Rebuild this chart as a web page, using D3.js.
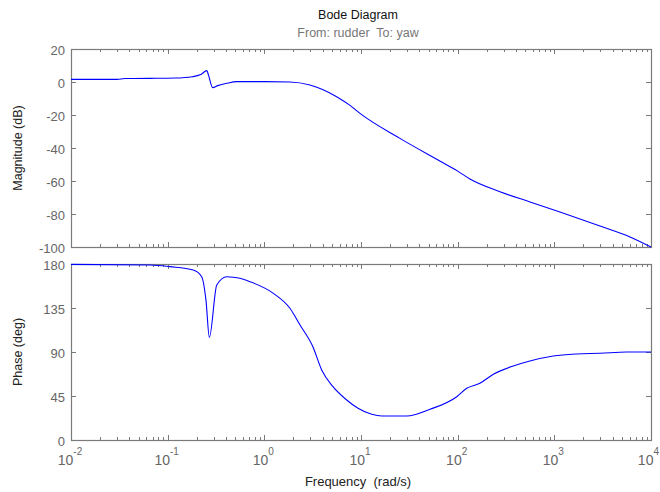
<!DOCTYPE html>
<html>
<head>
<meta charset="utf-8">
<script src="https://d3js.org/d3.v7.min.js"></script>
<style>
  body { margin: 0; background: #fff; }
  text { font-family: "Liberation Sans", Arial, sans-serif; white-space: pre; }
</style>
</head>
<body>
<svg id="chart" width="660" height="492"></svg>
<script>
// Magnitude response (rad/s, dB)
const magFreq = [0.01, 0.03, 0.036, 0.066, 0.12, 0.18, 0.22, 0.254, 0.265, 0.292, 0.33, 0.408, 0.52, 1.0, 1.84, 2.96, 4.0, 5.6, 7.7, 10, 25, 66, 100, 134, 274, 560, 1143, 2965, 6070, 10000];
const magDb   = [1.6, 1.6, 2.1, 2.2, 2.4, 3.2, 4.5, 6.9, 4.0, -3.4, -2.2, -0.8, 0.2, 0.2, 0.0, -1.8, -4.5, -8.9, -14.2, -19.5, -34, -48, -54, -58.8, -66.5, -72.7, -78.8, -87.3, -93.9, -100];

// Phase response (rad/s, deg)
const phaseFreq = [0.01, 0.0656, 0.106, 0.184, 0.225, 0.249, 0.270, 0.322, 0.408, 0.56, 0.711, 1.24, 1.84, 2.34, 3.18, 3.92, 5.13, 7.11, 9.31, 12.9, 16.4, 29.7, 51.8, 97.8, 124, 170, 234, 376, 559, 975, 1702, 2966, 5600, 10000];
const phaseDeg  = [179.6, 179, 177.3, 173.9, 167, 143, 105, 158.5, 167, 165.4, 161.9, 150, 134.7, 117.6, 95.4, 71.6, 54.5, 40.9, 32.4, 26.3, 24.5, 24.5, 31.4, 44.3, 52.9, 58, 67.2, 75.7, 80.8, 85.9, 88, 88.7, 90, 90];

const magTicks = [20, 0, -20, -40, -60, -80, -100];
const phaseTicks = [180, 135, 90, 45, 0];
const decadeExps = [-2, -1, 0, 1, 2, 3, 4];

const titleText = "Bode Diagram";
const subtitleText = "From: rudder  To: yaw";

const svg = d3.select("#chart");
const left = 71, right = 651;
const magTop = 49, magBottom = 247;
const phTop = 264, phBottom = 440;
const frameColor = "#7a7a7a";
const tickText = "#666";

const x = d3.scaleLog().domain([1e-2, 1e4]).range([left, right]);
const yMag = d3.scaleLinear().domain([-100, 20]).range([magBottom, magTop]);
const yPh = d3.scaleLinear().domain([0, 180]).range([phBottom, phTop]);

const xTickVals = x.ticks();
const isDecade = v => Math.abs(Math.log10(v) - Math.round(Math.log10(v))) < 1e-9;

function drawPanel(y, top, bottom, yTicks) {
  const g = svg.append("g");
  // inward x ticks on top and bottom edges
  xTickVals.forEach(v => {
    const len = isDecade(v) ? 5 : 3;
    const px = Math.round(x(v)) + 0.5;
    g.append("line").attr("x1", px).attr("x2", px).attr("y1", top).attr("y2", top + len)
      .attr("stroke", frameColor).attr("stroke-width", 1);
    g.append("line").attr("x1", px).attr("x2", px).attr("y1", bottom).attr("y2", bottom - len)
      .attr("stroke", frameColor).attr("stroke-width", 1);
  });
  // inward y ticks on left and right edges + labels
  yTicks.forEach(v => {
    const py = Math.round(y(v)) + 0.5;
    g.append("line").attr("x1", left).attr("x2", left + 5).attr("y1", py).attr("y2", py)
      .attr("stroke", frameColor);
    g.append("line").attr("x1", right).attr("x2", right - 5).attr("y1", py).attr("y2", py)
      .attr("stroke", frameColor);
    g.append("text").attr("x", 65).attr("y", py + 5).attr("text-anchor", "end")
      .attr("font-size", 13).attr("fill", tickText).text(v);
  });
  g.append("rect").attr("x", left + 0.5).attr("y", top + 0.5)
    .attr("width", right - left).attr("height", bottom - top)
    .attr("fill", "none").attr("stroke", frameColor).attr("stroke-width", 1.2);
}

drawPanel(yMag, magTop, magBottom, magTicks);
drawPanel(yPh, phTop, phBottom, phaseTicks);

// response curves
const magLine = d3.line().x(d => x(d[0])).y(d => yMag(d[1])).curve(d3.curveMonotoneX);
svg.append("path").datum(d3.zip(magFreq, magDb)).attr("d", magLine)
  .attr("fill", "none").attr("stroke", "#0000ff").attr("stroke-width", 1.1);

const phLine = d3.line().x(d => x(d[0])).y(d => yPh(d[1])).curve(d3.curveMonotoneX);
svg.append("path").datum(d3.zip(phaseFreq, phaseDeg)).attr("d", phLine)
  .attr("fill", "none").attr("stroke", "#0000ff").attr("stroke-width", 1.1);

// decade labels on the bottom axis
decadeExps.forEach((e, i) => {
  const last = i === decadeExps.length - 1;
  const t = svg.append("text")
    .attr("x", last ? 659 : x(Math.pow(10, e)) - 1).attr("y", 465)
    .attr("text-anchor", last ? "end" : "middle").attr("font-size", 14).attr("fill", tickText);
  t.append("tspan").text("10");
  t.append("tspan").attr("dy", -10).attr("font-size", 10).text(String(e));
});

// titles
svg.append("text").attr("x", 358).attr("y", 19).attr("text-anchor", "middle")
  .attr("font-size", 12.5).attr("fill", "#111").text(titleText);
svg.append("text").attr("x", 358).attr("y", 37).attr("text-anchor", "middle")
  .attr("font-size", 12.5).attr("fill", "#777").text(subtitleText);

svg.append("text").attr("transform", "translate(22," + (magTop + magBottom) / 2 + ") rotate(-90)")
  .attr("text-anchor", "middle").attr("font-size", 12.5).attr("fill", "#222").text("Magnitude (dB)");
svg.append("text").attr("transform", "translate(22," + (phTop + phBottom) / 2 + ") rotate(-90)")
  .attr("text-anchor", "middle").attr("font-size", 12.5).attr("fill", "#222").text("Phase (deg)");
svg.append("text").attr("x", 358).attr("y", 486).attr("text-anchor", "middle")
  .attr("font-size", 13).attr("fill", "#222").text("Frequency  (rad/s)");
</script>
</body>
</html>
